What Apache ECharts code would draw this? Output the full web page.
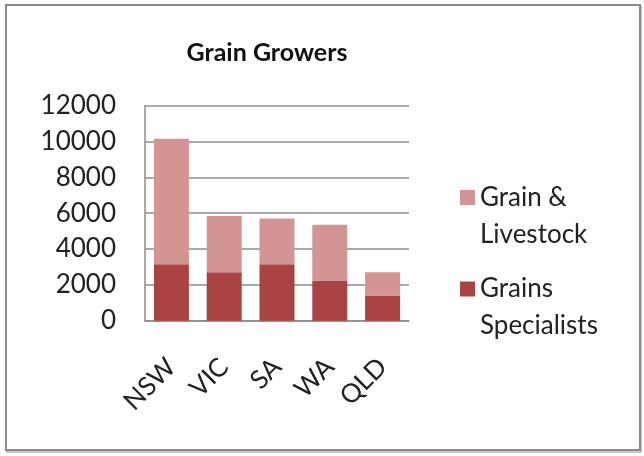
<!DOCTYPE html>
<html>
<head>
<meta charset="utf-8">
<script src="https://cdn.jsdelivr.net/npm/echarts@6/dist/echarts.min.js"></script>
<style>
  html, body { margin: 0; padding: 0; background: #fff; }
  #frame { position: absolute; left: 5px; top: 4px; width: 632px; height: 443px; border: 2px solid #8a8a8a; box-shadow: 1px 2px 0 #c8c8c8; }
  #chart { position: absolute; left: 0; top: 0; width: 644px; height: 456px; }
</style>
</head>
<body>
<div id="frame"></div>
<div id="chart"></div>
<script>
const categories = ['NSW', 'VIC', 'SA', 'WA', 'QLD'];
const grainsSpecialists = [3150, 2700, 3150, 2250, 1400];
const grainLivestock = [7000, 3150, 2550, 3100, 1300];
const seriesNames = ['Grains Specialists', 'Grain & Livestock'];
const legendLabels = { 'Grain & Livestock': '\nGrain &\nLivestock', 'Grains Specialists': '\nGrains\nSpecialists' };

const FONT = 'Lato';
const chart = echarts.init(document.getElementById('chart'));
const legendText = {
  fontFamily: FONT, fontSize: 26, color: '#222', lineHeight: 37
};
chart.setOption({
  animation: false,
  title: {
    text: 'Grain Growers', left: 262, top: 35, textAlign: 'center',
    textStyle: { fontFamily: FONT, fontSize: 25, fontWeight: 'bold', color: '#111' }
  },
  legend: [
    { data: [seriesNames[1]], orient: 'vertical', left: 460, top: 142, padding: 0,
      itemWidth: 15, itemHeight: 15, icon: 'rect', selectedMode: false,
      formatter: n => legendLabels[n], textStyle: legendText },
    { data: [seriesNames[0]], orient: 'vertical', left: 460, top: 233.5, padding: 0,
      itemWidth: 15, itemHeight: 15, icon: 'rect', selectedMode: false,
      formatter: n => legendLabels[n], textStyle: legendText }
  ],
  grid: { left: 145, right: 235, top: 105.7, bottom: 135.3, containLabel: false },
  xAxis: {
    type: 'category', data: categories,
    axisLine: { lineStyle: { color: '#8c8c8c', width: 1.5 } },
    axisTick: { show: false },
    axisLabel: { rotate: 45, margin: 42, fontFamily: FONT, fontSize: 26, color: '#222', interval: 0 }
  },
  yAxis: {
    type: 'value', min: 0, max: 12000, interval: 2000,
    axisLine: { show: true, lineStyle: { color: '#8c8c8c', width: 1.5 } },
    axisTick: { show: false },
    splitLine: { lineStyle: { color: '#8c8c8c', width: 1.5 } },
    axisLabel: { margin: 29, fontFamily: FONT, fontSize: 26, color: '#222', formatter: v => String(v) }
  },
  series: [
    { name: seriesNames[0], type: 'bar', stack: 'total', data: grainsSpecialists,
      barWidth: 35, itemStyle: { color: '#aa4442' } },
    { name: seriesNames[1], type: 'bar', stack: 'total', data: grainLivestock,
      barWidth: 35, itemStyle: { color: '#d39594' } }
  ]
});
</script>
</body>
</html>
